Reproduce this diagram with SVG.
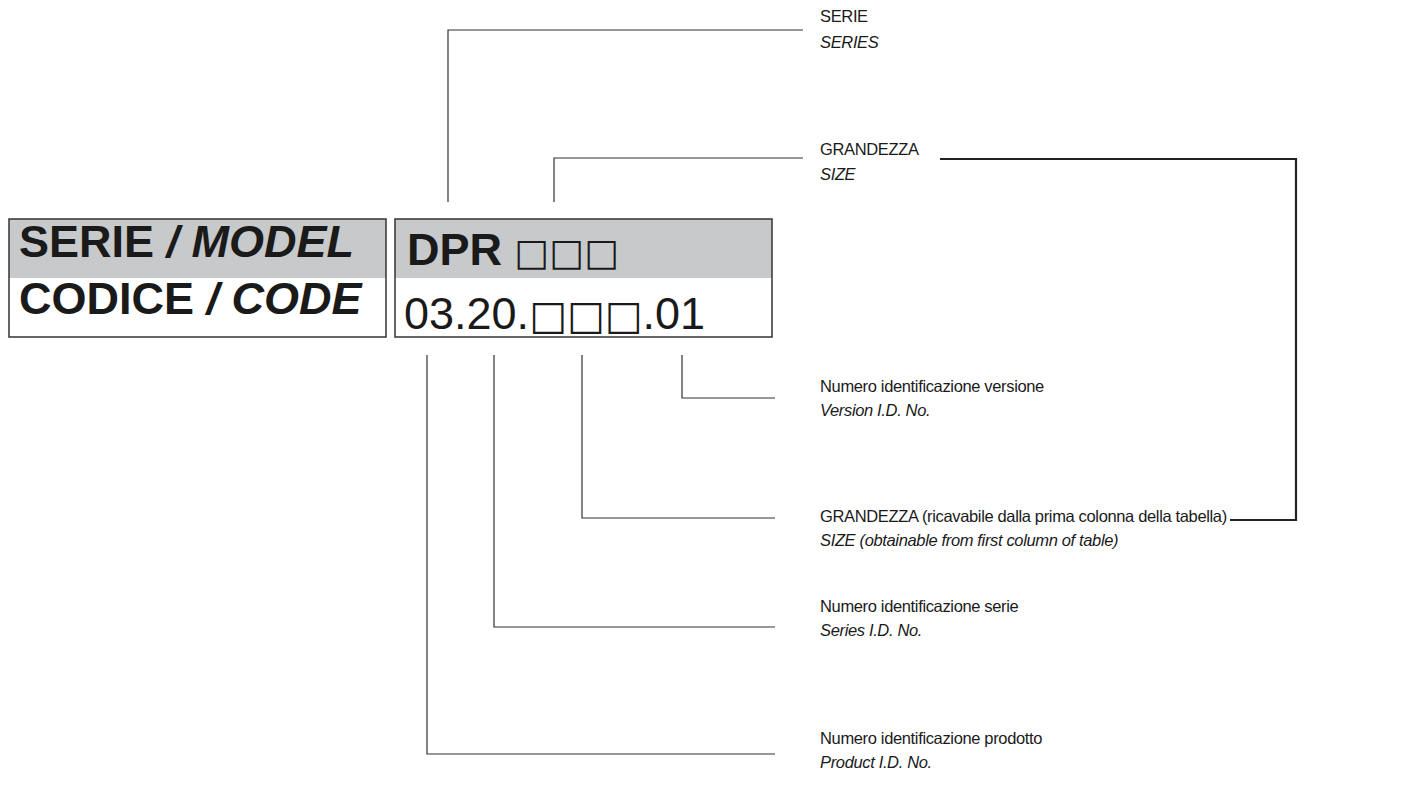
<svg xmlns="http://www.w3.org/2000/svg" width="1415" height="808" viewBox="0 0 1415 808">
<style>
.band{fill:#c8c9cb}
.frame{fill:none;stroke:#333;stroke-width:1.5}
.big{font-family:"Liberation Sans",Arial,sans-serif;font-size:45px;fill:#1a1a1a}
.sq{font-family:"DejaVu Sans",sans-serif;font-weight:normal;font-style:normal}
.lbl{font-family:"Liberation Sans",Arial,sans-serif;font-size:16.5px;letter-spacing:-0.35px;fill:#1a1a1a}
.it{font-style:italic}
.ln{fill:none;stroke:#333;stroke-width:1.2}
.thick{fill:none;stroke:#222;stroke-width:2.2}
</style>
<rect width="1415" height="808" fill="#fff"/>
<g id="box-left">
<rect class="band" x="9" y="219" width="377" height="59"/>
<rect class="frame" x="9" y="219" width="377" height="118"/>
<text class="big" x="19" y="257" font-weight="bold">SERIE <tspan font-style="italic">/ MODEL</tspan></text>
<text class="big" x="19" y="314" font-weight="bold">CODICE <tspan font-style="italic">/ CODE</tspan></text>
</g>
<g id="box-right">
<rect class="band" x="395" y="219" width="377" height="59"/>
<rect class="frame" x="395" y="219" width="377" height="118"/>
<text class="big" x="407" y="265" font-size="41"><tspan font-weight="bold">DPR</tspan> <tspan class="sq" font-size="37">□□□</tspan></text>
<text class="big" x="404" y="329" font-size="43">03.20.<tspan class="sq" font-size="40">□□□</tspan>.01</text>
</g>
<g id="connectors">
<polyline class="ln" points="448,202 448,30 803,30"/>
<polyline class="ln" points="554,202 554,158 803,158"/>
<polyline class="ln" points="682,355 682,398 775,398"/>
<polyline class="ln" points="582,355 582,518 775,518"/>
<polyline class="ln" points="494,355 494,627 775,627"/>
<polyline class="ln" points="427,355 427,754 775,754"/>
<polyline class="thick" points="940,159 1296,159 1296,520 1230,520"/>
</g>
<g id="labels">
<text class="lbl" x="820" y="22">SERIE</text>
<text class="lbl it" x="820" y="48">SERIES</text>
<text class="lbl" x="820" y="155">GRANDEZZA</text>
<text class="lbl it" x="820" y="180">SIZE</text>
<text class="lbl" x="820" y="392">Numero identificazione versione</text>
<text class="lbl it" x="820" y="416">Version I.D. No.</text>
<text class="lbl" x="820" y="522">GRANDEZZA (ricavabile dalla prima colonna della tabella)</text>
<text class="lbl it" x="820" y="546">SIZE (obtainable from first column of table)</text>
<text class="lbl" x="820" y="612">Numero identificazione serie</text>
<text class="lbl it" x="820" y="636">Series I.D. No.</text>
<text class="lbl" x="820" y="744">Numero identificazione prodotto</text>
<text class="lbl it" x="820" y="768">Product I.D. No.</text>
</g>
</svg>
